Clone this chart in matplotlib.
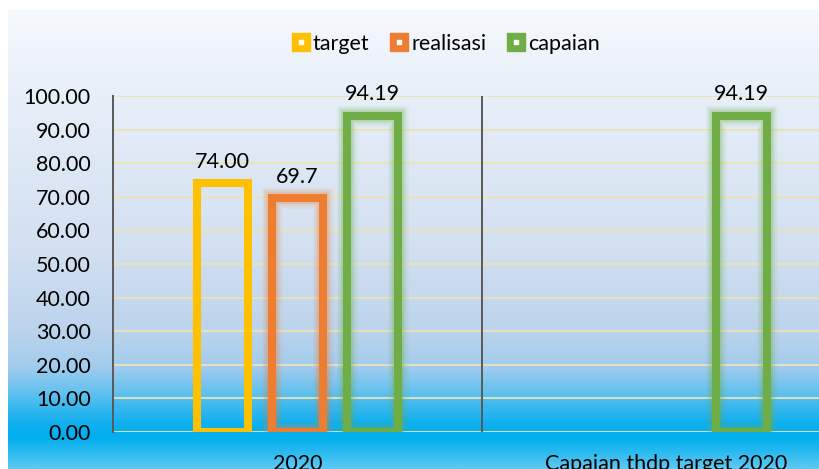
import numpy as np
import matplotlib
matplotlib.use("Agg")
import matplotlib.pyplot as plt
import matplotlib.patheffects as pe
from matplotlib.colors import LinearSegmentedColormap
from matplotlib.lines import Line2D
from matplotlib.legend_handler import HandlerTuple

categories = ["2020", "Capaian thdp target 2020"]
series_names = ["target", "realisasi", "capaian"]
target = [74.00, np.nan]
realisasi = [69.7, np.nan]
capaian = [94.19, 94.19]
target_labels = ["74.00", ""]
realisasi_labels = ["69.7", ""]
capaian_labels = ["94.19", "94.19"]
yticks = [0, 10, 20, 30, 40, 50, 60, 70, 80, 90, 100]
ytick_labels = ["%.2f" % v for v in yticks]

colors = ["#FFC000", "#ED7D31", "#70AD47"]
glow = [False, True, True]

plt.rcParams['font.family'] = ['Lato', 'DejaVu Sans']
FS = 15.5

W, H = 819, 469
fig = plt.figure(figsize=(W / 100, H / 100), dpi=100)
fig.patch.set_facecolor("white")

# background gradient
bg = fig.add_axes([8 / W, 0, 1 - 8 / W, 1 - 10 / H])
stops = [
    (0.0, "#f6f9fd"),
    (0.20, "#e6eef8"),
    (0.52, "#d2e0f1"),
    (0.70, "#bcd3ec"),
    (0.78, "#a2ccee"),
    (0.84, "#5cc0ef"),
    (0.90, "#12b0ee"),
    (0.935, "#00aeef"),
    (0.97, "#30bcf0"),
    (1.0, "#5ec8f2"),
]
cmap = LinearSegmentedColormap.from_list("bg", stops)
grad = np.linspace(0, 1, 500).reshape(-1, 1)
bg.imshow(grad, aspect="auto", cmap=cmap, extent=[0, 1, 1, 0])
bg.set_xlim(0, 1)
bg.set_ylim(1, 0)
bg.axis("off")

# main axes
x0, x1 = 113, 851
yb, yt = 432, 96
ax = fig.add_axes([x0 / W, 1 - yb / H, (x1 - x0) / W, (yb - yt) / H])
ax.patch.set_alpha(0)
ax.set_xlim(-0.5, 1.5)
ax.set_ylim(0, 100)

ax.set_yticks(yticks)
ax.set_yticklabels(ytick_labels)
ax.yaxis.grid(True, color="#ece3b2", linewidth=1.3)
ax.set_axisbelow(True)
ax.tick_params(axis="y", length=0, pad=16, labelsize=FS, labelcolor="black")
ax.set_xticks(range(len(categories)))
ax.set_xticklabels(categories)
ax.tick_params(axis="x", length=0, pad=16, labelsize=FS, labelcolor="black")
for s in ["top", "right", "bottom"]:
    ax.spines[s].set_visible(False)
ax.spines["left"].set_color("#595959")
ax.spines["left"].set_linewidth(1.4)

# category separator
ax.plot([0.5, 0.5], [0, 100], color="#595959", lw=1.4, zorder=2)

slot = 75 / 369
bw = 51 / 369
lw = 5.8
xs = np.arange(len(categories))
data = [target, realisasi, capaian]
labels = [target_labels, realisasi_labels, capaian_labels]
for i, (vals, col, g, labs) in enumerate(zip(data, colors, glow, labels)):
    pos = xs + (i - 1) * slot
    arr = np.array(vals, dtype=float)
    mask = ~np.isnan(arr)
    v = np.nan_to_num(arr, nan=0.0)
    bars = ax.bar(pos[mask], v[mask], width=bw, facecolor="none",
                  edgecolor=col, linewidth=lw, zorder=3)
    if g:
        for b in bars:
            b.set_path_effects([
                pe.Stroke(linewidth=lw + 9, foreground=col, alpha=0.08),
                pe.Stroke(linewidth=lw + 6, foreground=col, alpha=0.12),
                pe.Stroke(linewidth=lw + 3, foreground=col, alpha=0.2),
                pe.Normal(),
            ])
    for p, val, lab in zip(pos[mask], v[mask], np.array(labs)[mask]):
        ax.annotate(lab, (p, val), xytext=(0, 8), textcoords="offset points",
                    ha="center", va="bottom", fontsize=FS, color="black")

# legend
handles = []
for col in colors:
    big = Line2D([], [], marker="s", linestyle="none", markersize=13,
                 markerfacecolor=col, markeredgecolor=col)
    small = Line2D([], [], marker="s", linestyle="none", markersize=3.5,
                   markerfacecolor="white", markeredgecolor="white")
    handles.append((big, small))
fig.legend(handles, series_names, handler_map={tuple: HandlerTuple(ndivide=1)},
           loc="center", bbox_to_anchor=(446 / W, 1 - 44 / H), ncol=3,
           frameon=False, fontsize=FS, handlelength=0.8, handletextpad=0.15,
           columnspacing=1.0)

fig.savefig("out.png", dpi=100)
